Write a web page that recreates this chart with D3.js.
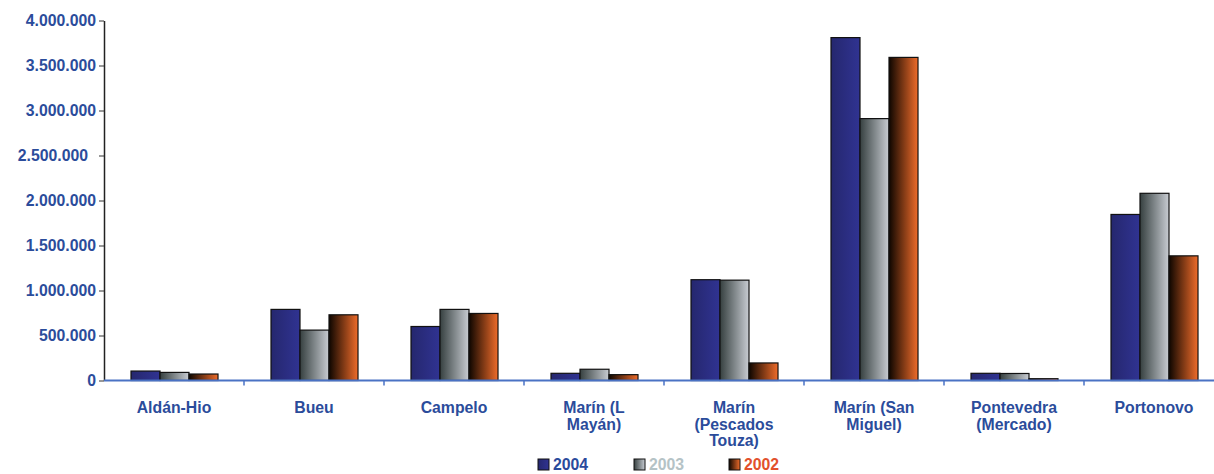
<!DOCTYPE html>
<html><head><meta charset="utf-8">
<script src="https://cdn.jsdelivr.net/npm/d3@7"></script>
<style>
body{margin:0;background:#fff;}
text{font-family:"Liberation Sans",Arial,sans-serif;font-weight:bold;}
</style></head>
<body><svg id="c" width="1214" height="474"></svg>
<script>
const categories = ["Aldán-Hio","Bueu","Campelo","Marín (L Mayán)","Marín (Pescados Touza)","Marín (San Miguel)","Pontevedra (Mercado)","Portonovo"];
const categoryLines = [["Aldán-Hio"],["Bueu"],["Campelo"],["Marín (L","Mayán)"],["Marín","(Pescados","Touza)"],["Marín (San","Miguel)"],["Pontevedra","(Mercado)"],["Portonovo"]];
const seriesNames = ["2004","2003","2002"];
const values2004 = [105000, 790000, 600000, 80000, 1120000, 3810000, 80000, 1845000];
const values2003 = [90000, 560000, 790000, 125000, 1115000, 2910000, 78000, 2080000];
const values2002 = [72000, 730000, 745000, 65000, 195000, 3590000, 20000, 1385000];
const yTicks = [0,500000,1000000,1500000,2000000,2500000,3000000,3500000,4000000];

const seriesValues = {"2004":values2004,"2003":values2003,"2002":values2002};
const svg = d3.select("#c");
const defs = svg.append("defs");
const grads = {
  "2004":["#25276e","#303392"],
  "2003":["#364040","#c8ccd2"],
  "2002":["#0e0600","#f06c2a"]
};
const legendColors = {"2004":"#2a4a9c","2003":"#b5c3c6","2002":"#e2502c"};
seriesNames.forEach(s=>{
  const g = defs.append("linearGradient").attr("id","g"+s).attr("x1","0").attr("x2","1").attr("y1","0").attr("y2","0");
  g.append("stop").attr("offset","0%").attr("stop-color",grads[s][0]);
  g.append("stop").attr("offset","100%").attr("stop-color",grads[s][1]);
});

const left = 104, baseY = 380.5, topY = 20.5;
const x = d3.scaleBand().domain(categories).range([left, left + 140*categories.length]);
const x1 = d3.scaleBand().domain(seriesNames).range([27, 114]);
const y = d3.scaleLinear().domain([0,4000000]).range([baseY, topY]);
const loc = d3.formatLocale({decimal:",",thousands:".",grouping:[3],currency:["",""]});
const fmt = loc.format(",d");

// bars
const groups = svg.append("g").selectAll("g").data(categories).join("g")
  .attr("transform", d=>`translate(${x(d)},0)`);
groups.selectAll("rect").data((d,i)=>seriesNames.map(s=>({s, v:seriesValues[s][i]})))
  .join("rect")
  .attr("x", d=>x1(d.s)).attr("width", x1.bandwidth())
  .attr("y", d=>y(d.v)).attr("height", d=>baseY - y(d.v))
  .attr("fill", d=>`url(#g${d.s})`)
  .attr("stroke","#111").attr("stroke-width",1.2);

// y axis
const ya = svg.append("g").attr("transform",`translate(${left},0)`)
  .call(d3.axisLeft(y).tickValues(yTicks).tickFormat(fmt).tickSize(5).tickSizeOuter(0));
ya.select(".domain").attr("stroke","#222").attr("stroke-width",1.5);
ya.selectAll(".tick line").attr("stroke","#333");
ya.selectAll(".tick text").attr("fill","#2b4c9b").attr("font-size","15.8px").attr("font-family","'Liberation Sans',Arial,sans-serif").attr("font-weight","bold").attr("x",-8)
  .attr("dx", d=> d===2500000 ? -8 : 0);

// x axis
const xa = svg.append("g");
xa.append("line").attr("x1",left).attr("x2",1214).attr("y1",baseY).attr("y2",baseY).attr("stroke","#4a72c4").attr("stroke-width",2);
xa.selectAll("line.t").data(categories.slice(1)).join("line").attr("class","t")
  .attr("x1",d=>x(d)).attr("x2",d=>x(d)).attr("y1",baseY).attr("y2",baseY+5).attr("stroke","#4a72c4").attr("stroke-width",1.5);
const labels = xa.selectAll("text").data(categories).join("text")
  .attr("text-anchor","middle").attr("fill","#2b4c9b").attr("font-size","15.8px")
  .attr("transform", d=>`translate(${x(d)+x.bandwidth()/2},413)`);
labels.each(function(d,i){
  d3.select(this).selectAll("tspan").data(categoryLines[i]).join("tspan")
    .attr("x",0).attr("dy",(t,j)=>j===0?0:"1.05em").text(t=>t);
});

// legend
const legendX = {"2004":538,"2003":634,"2002":729};
const lg = svg.append("g");
seriesNames.forEach(s=>{
  lg.append("rect").attr("x",legendX[s]).attr("y",459).attr("width",11).attr("height",11)
    .attr("fill",`url(#g${s})`).attr("stroke","#111").attr("stroke-width",1);
  lg.append("text").attr("x",legendX[s]+15).attr("y",470).attr("fill",legendColors[s]).attr("font-size","15.8px").text(s);
});
</script></body></html>
